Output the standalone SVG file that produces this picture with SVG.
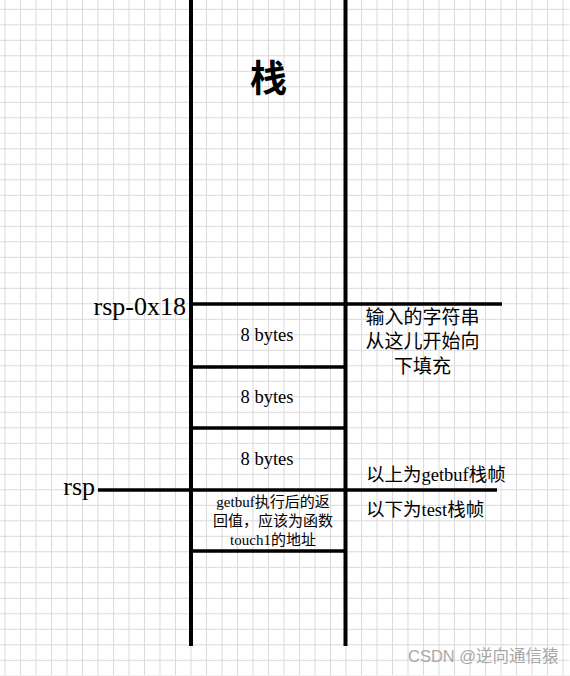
<svg xmlns="http://www.w3.org/2000/svg" width="570" height="676" viewBox="0 0 570 676">
<defs>
<style>
.grid{stroke:#d9d9d9;stroke-width:1;fill:none}
.thick{stroke:#000;stroke-width:4;fill:none}
.mid{stroke:#000;stroke-width:3.5;fill:none}
.serif{font-family:"Liberation Serif","Noto Sans CJK SC",serif;fill:#000}
.cjk{font-family:"Liberation Serif","Noto Sans CJK SC",sans-serif;fill:#000}
.wm{font-family:"Liberation Sans","Noto Sans CJK SC",sans-serif;fill:#a8a8a8}
</style>
<pattern id="gridp" patternUnits="userSpaceOnUse" x="5" y="9.3" width="15.5" height="15.5">
<path d="M0 0.5H15.5M0.5 0V15.5" class="grid"/>
</pattern>
</defs>
<rect width="570" height="676" fill="#fff"/>
<rect x="0" y="0" width="570" height="676" fill="url(#gridp)" transform="translate(-0.5,-0.5)"/>
<g id="connectors">
<line x1="191" y1="0" x2="191" y2="646" class="thick"/>
<line x1="345.5" y1="0" x2="345.5" y2="646" class="thick"/>
<line x1="191" y1="304" x2="502" y2="304" class="mid"/>
<line x1="191" y1="367" x2="345.5" y2="367" class="mid"/>
<line x1="191" y1="428" x2="345.5" y2="428" class="mid"/>
<line x1="98" y1="490" x2="497" y2="490" class="mid"/>
<line x1="191" y1="551" x2="345.5" y2="551" class="mid"/>
</g>
<g id="title"><text x="268.5" y="92" font-size="37" font-weight="bold" text-anchor="middle" class="cjk">栈</text></g>
<g id="label-rsp-0x18"><text x="186" y="315" font-size="26" text-anchor="end" class="serif">rsp-0x18</text></g>
<g id="label-rsp"><text x="95" y="495" font-size="26" text-anchor="end" class="serif">rsp</text></g>
<g id="box1"><text x="267" y="341" font-size="18.5" text-anchor="middle" class="serif">8 bytes</text></g>
<g id="box2"><text x="267" y="403" font-size="18.5" text-anchor="middle" class="serif">8 bytes</text></g>
<g id="box3"><text x="267" y="465" font-size="18.5" text-anchor="middle" class="serif">8 bytes</text></g>
<g id="box4" font-size="15" text-anchor="middle" class="cjk">
<text x="273" y="507" class="cjk">getbuf执行后的返</text>
<text x="273" y="526" class="cjk">回值，应该为函数</text>
<text x="273" y="545" class="cjk">touch1的地址</text>
</g>
<g id="note-input" font-size="19" text-anchor="middle">
<text x="422.5" y="324" class="cjk">输入的字符串</text>
<text x="422.5" y="348" class="cjk">从这儿开始向</text>
<text x="422.5" y="373" class="cjk">下填充</text>
</g>
<g id="note-getbuf"><text x="366" y="481" font-size="18.5" class="cjk">以上为getbuf栈帧</text></g>
<g id="note-test"><text x="366" y="515.5" font-size="18.5" class="cjk">以下为test栈帧</text></g>
<g id="watermark"><text x="408" y="662" font-size="16.5" class="wm">CSDN @逆向通信猿</text></g>
</svg>
